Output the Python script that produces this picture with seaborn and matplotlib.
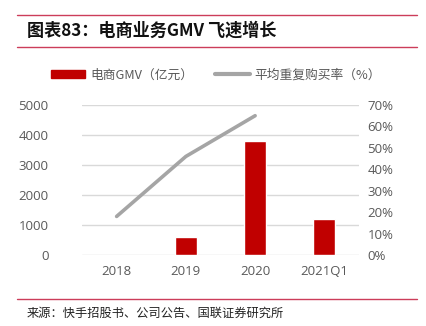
import numpy as np
import pandas as pd
import matplotlib
matplotlib.use("Agg")
import matplotlib.pyplot as plt
from matplotlib.lines import Line2D
from matplotlib.patches import Patch
import seaborn as sns

# Data
periods = ["2018", "2019", "2020", "2021Q1"]
gmv = [np.nan, 590, 3810, 1190]          # 电商GMV（亿元）
repeat_rate = [18, 46, 65, np.nan]        # 平均重复购买率（%）
left_ticks = [0, 1000, 2000, 3000, 4000, 5000]
right_ticks = [0, 10, 20, 30, 40, 50, 60, 70]

title_text = "图表83：电商业务GMV 飞速增长"
source_text = "来源：快手招股书、公司公告、国联证券研究所"
bar_label = "电商GMV（亿元）"
line_label = "平均重复购买率（%）"

sns.set_theme(style="white")
plt.rcParams["font.family"] = ["Noto Sans CJK SC", "DejaVu Sans"]

RED = "#C00000"
GRAY_LINE = "#A5A5A5"
TICK = "#595959"
GRID = "#D9D9D9"
FRAME = "#CC3D5A"

df = pd.DataFrame({"period": periods, "gmv": gmv, "rate": repeat_rate})

fig = plt.figure(figsize=(4.26, 3.26), dpi=100)
W, H = 426, 326
ax = fig.add_axes([82 / W, (H - 255) / H, (359 - 82) / W, 150 / H])

sns.barplot(data=df.dropna(subset=["gmv"]), x="period", y="gmv", order=periods,
            color=RED, width=0.32, saturation=1, ax=ax, zorder=3)
ax.set_ylim(0, 5000)
ax.set_yticks(left_ticks)
ax.set_yticklabels([str(v) for v in left_ticks])
ax.yaxis.grid(True, color=GRID, linewidth=1)
ax.set_axisbelow(True)

ax2 = ax.twinx()
sns.pointplot(data=df.dropna(subset=["rate"]), x="period", y="rate", order=periods,
              color=GRAY_LINE, markers="", linewidth=2.6, ax=ax2)
ax2.set_ylim(0, 70)
ax2.set_yticks(right_ticks)
ax2.set_yticklabels([f"{v}%" for v in right_ticks])
ax.set_xlim(-0.5, 3.5)
ax2.set_xlim(-0.5, 3.5)

for a in (ax, ax2):
    for s in a.spines.values():
        s.set_visible(False)
    a.set_xlabel("")
    a.set_ylabel("")
    a.tick_params(axis="both", length=0, colors=TICK, labelsize=9.5, pad=6)
    for lab in a.get_xticklabels() + a.get_yticklabels():
        lab.set_fontfamily(["Open Sans", "DejaVu Sans"])
ax.tick_params(axis="y", pad=24)
ax2.tick_params(axis="y", pad=6)
ax.tick_params(axis="x", pad=7)

# Legend
handles = [Patch(facecolor=RED, edgecolor=RED),
           Line2D([0], [0], color=GRAY_LINE, linewidth=3)]
fig.legend(handles, [bar_label, line_label], loc="center",
           bbox_to_anchor=(216 / W, (H - 75) / H), ncol=2, frameon=False,
           handlelength=2.7, handleheight=0.6, handletextpad=0.4, columnspacing=1.7,
           prop={"size": 9.2}, labelcolor=TICK)

# Header and footer
for y in (15, 47, 299):
    fig.add_artist(Line2D([17 / W, 417 / W], [(H - y) / H] * 2, color=FRAME, linewidth=1))
fig.text(27 / W, (H - 31) / H, title_text, fontsize=12.3, fontweight="bold",
         color="#111111", va="center", ha="left")
fig.text(27 / W, (H - 313) / H, source_text, fontsize=8.8, color="#222222",
         va="center", ha="left")

fig.savefig("out.png", dpi=100)
